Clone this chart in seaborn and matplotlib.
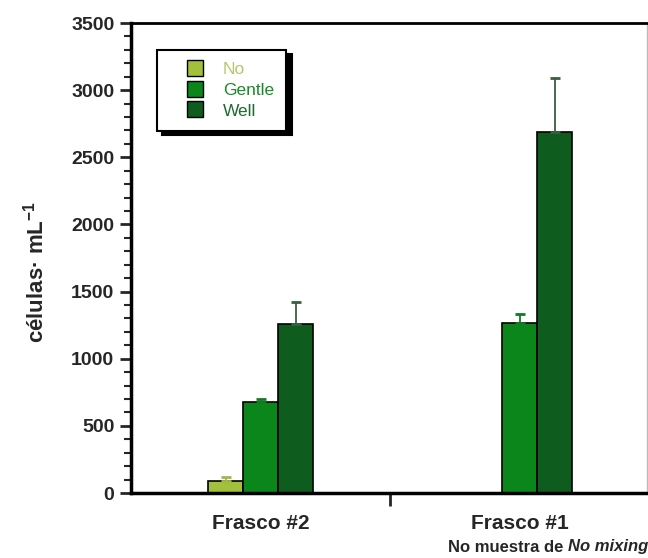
import numpy as np
import pandas as pd
import matplotlib
matplotlib.use("Agg")
import matplotlib.pyplot as plt
import seaborn as sns
from matplotlib.lines import Line2D
from matplotlib.ticker import MultipleLocator

# ---- data ----
categories = ["Frasco #2", "Frasco #1"]
mixing = ["No", "Gentle", "Well"]
no_vals = [90, 0]
gentle_vals = [675, 1265]
well_vals = [1255, 2690]
no_err = [28, np.nan]
gentle_err = [25, 70]
well_err = [170, 400]
ylabel_text = "células· mL$^{\\mathbf{-1}}$"
note_plain = "No muestra de "
note_italic = "No mixing"

colors = ["#a3c03c", "#0b861a", "#0e5d1f"]
err_colors = ["#9fb84a", "#127a24", "#3a5e40"]
text_colors = ["#b3c86a", "#1a8a2a", "#1e6a30"]

df = pd.DataFrame({
    "frasco": categories * 3,
    "mixing": [m for m in mixing for _ in categories],
    "cells": no_vals + gentle_vals + well_vals,
})
errs = [no_err, gentle_err, well_err]

sns.set_style("ticks")
plt.rcParams["font.family"] = ["Liberation Sans", "DejaVu Sans"]
plt.rcParams["mathtext.fontset"] = "custom"
plt.rcParams["mathtext.rm"] = "Liberation Sans"
plt.rcParams["mathtext.bf"] = "Liberation Sans:bold"

fig = plt.figure(figsize=(6.48, 5.58), dpi=100)
ax = fig.add_axes([131 / 648, 1 - 493 / 558, 516 / 648, 470 / 558])

sns.barplot(data=df, x="frasco", y="cells", hue="mixing", order=categories,
            hue_order=mixing, palette=colors, saturation=1, width=0.404,
            edgecolor="black", linewidth=1.2, errorbar=None, legend=False, ax=ax)

bar_containers = list(ax.containers)
for i, cont in enumerate(bar_containers):
    for bar, e in zip(cont, errs[i]):
        if np.isnan(e):
            continue
        x = bar.get_x() + bar.get_width() / 2
        h = bar.get_height()
        ax.errorbar(x, h, yerr=[[0], [e]], fmt="none", ecolor=err_colors[i],
                    elinewidth=1.3, capsize=3.5, capthick=2, zorder=1)

ax.set_xlim(-0.5, 1.49)
ax.set_ylim(0, 3500)
ax.yaxis.set_major_locator(MultipleLocator(500))
ax.yaxis.set_minor_locator(MultipleLocator(100))

ax.set_xticks([0.5])
ax.set_xticklabels([""])
ax.set_xticks([0, 1], labels=categories, minor=True)
ax.tick_params(axis="x", which="major", length=9, width=2, direction="out")
ax.tick_params(axis="x", which="minor", length=0, pad=15, labelsize=15)
for t in ax.get_xticklabels(minor=True):
    t.set_fontweight("bold")

ax.tick_params(axis="y", which="major", length=8, width=2, direction="out",
               pad=4, labelsize=14)
ax.tick_params(axis="y", which="minor", length=5, width=1.5, direction="out")
for t in ax.get_yticklabels():
    t.set_fontweight("bold")

ax.set_xlabel("")
ax.set_ylabel(ylabel_text, fontsize=16, fontweight="bold", va="center")
ax.yaxis.set_label_coords(-0.185, 0.47)

for s in ["left", "bottom"]:
    ax.spines[s].set_linewidth(2.5)
    ax.spines[s].set_color("black")
ax.spines["top"].set_linewidth(2)
ax.spines["top"].set_color("black")
ax.spines["right"].set_linewidth(1)
ax.spines["right"].set_color("#bbbbbb")

handles = [Line2D([], [], marker="s", linestyle="none", markersize=11,
                  markerfacecolor=c, markeredgecolor="black", markeredgewidth=1)
           for c in colors]
leg = ax.legend(handles, mixing, loc="upper left", bbox_to_anchor=(0.050, 0.943),
                borderaxespad=0, fontsize=12.5, frameon=True, fancybox=False,
                edgecolor="black", framealpha=1, borderpad=0.7, handlelength=3.0,
                handletextpad=0.1, labelspacing=0.32,
                shadow={"ox": 4, "oy": -3, "facecolor": "black",
                        "edgecolor": "black", "alpha": 1})
leg.get_frame().set_linewidth(1.5)
for t, c in zip(leg.get_texts(), text_colors):
    t.set_color(c)

# bottom-right note with italic part
t2 = fig.text(648 / 648, 1 - 547 / 558, note_italic, ha="right", va="center",
              fontsize=12, fontweight="bold", fontstyle="italic")
fig.canvas.draw()
bb = t2.get_window_extent()
x_left = bb.x0 / fig.bbox.width
fig.text(x_left, 1 - 547 / 558, note_plain, ha="right", va="center",
         fontsize=12, fontweight="bold")

fig.savefig("out.png", dpi=100)
